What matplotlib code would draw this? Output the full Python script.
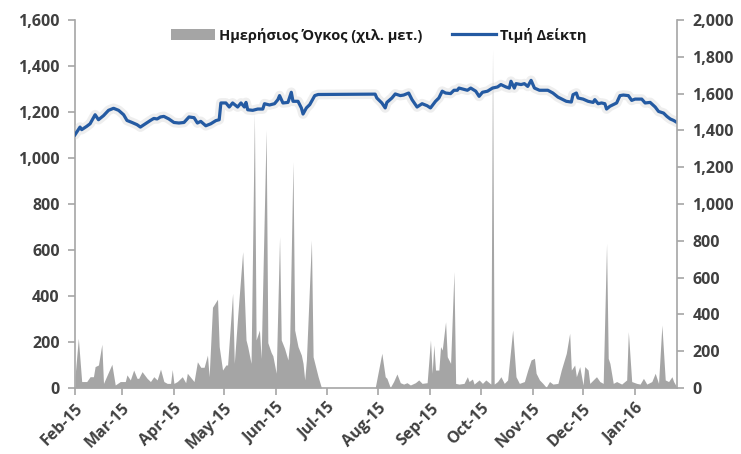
#!/usr/bin/env python3
"""
Ημερήσιος όγκος και τιμή δείκτη, Φεβ 2015 - Ιαν 2016
"""
import matplotlib
matplotlib.use("Agg")
import matplotlib.pyplot as plt
import matplotlib.dates as mdates
import matplotlib.ticker as mticker
import pandas as pd

# ---- δεδομένα (εκτίμηση από την εικόνα) ----
price_dates = [
    "2015-02-01", "2015-02-04", "2015-02-05", "2015-02-08", "2015-02-10", "2015-02-13",
    "2015-02-15", "2015-02-18", "2015-02-21", "2015-02-24", "2015-02-27", "2015-03-02",
    "2015-03-04", "2015-03-07", "2015-03-10", "2015-03-12", "2015-03-15", "2015-03-18",
    "2015-03-20", "2015-03-22", "2015-03-24", "2015-03-26", "2015-03-29", "2015-04-01",
    "2015-04-04", "2015-04-07", "2015-04-10", "2015-04-13", "2015-04-15", "2015-04-17",
    "2015-04-20", "2015-04-23", "2015-04-26", "2015-04-28", "2015-04-29", "2015-05-02",
    "2015-05-04", "2015-05-06", "2015-05-09", "2015-05-11", "2015-05-13", "2015-05-14",
    "2015-05-15", "2015-05-18", "2015-05-21", "2015-05-24", "2015-05-25", "2015-05-28",
    "2015-05-31", "2015-06-02", "2015-06-03", "2015-06-05", "2015-06-08", "2015-06-10",
    "2015-06-11", "2015-06-14", "2015-06-16", "2015-06-17", "2015-06-19", "2015-06-21",
    "2015-06-24", "2015-06-26", "2015-07-30", "2015-07-31", "2015-08-03", "2015-08-05",
    "2015-08-06", "2015-08-09", "2015-08-11", "2015-08-14", "2015-08-16", "2015-08-19",
    "2015-08-21", "2015-08-24", "2015-08-27", "2015-08-30", "2015-09-01", "2015-09-04",
    "2015-09-06", "2015-09-08", "2015-09-10", "2015-09-13", "2015-09-15", "2015-09-17",
    "2015-09-18", "2015-09-20", "2015-09-23", "2015-09-25", "2015-09-28", "2015-09-30",
    "2015-10-02", "2015-10-05", "2015-10-08", "2015-10-11", "2015-10-13", "2015-10-16",
    "2015-10-18", "2015-10-19", "2015-10-21", "2015-10-22", "2015-10-25", "2015-10-27",
    "2015-10-29", "2015-10-31", "2015-11-02", "2015-11-05", "2015-11-08", "2015-11-10",
    "2015-11-13", "2015-11-16", "2015-11-19", "2015-11-21", "2015-11-24", "2015-11-25",
    "2015-11-27", "2015-11-28", "2015-12-01", "2015-12-04", "2015-12-07", "2015-12-08",
    "2015-12-10", "2015-12-12", "2015-12-14", "2015-12-15", "2015-12-17", "2015-12-19",
    "2015-12-21", "2015-12-23", "2015-12-25", "2015-12-28", "2015-12-30", "2016-01-01",
    "2016-01-05", "2016-01-07", "2016-01-10", "2016-01-13", "2016-01-15", "2016-01-18",
    "2016-01-20", "2016-01-22", "2016-01-24", "2016-01-26",
]
price_values = [
    1376, 1418, 1404, 1422, 1436, 1485,
    1458, 1480, 1509, 1520, 1509, 1485,
    1454, 1443, 1431, 1418, 1436, 1454,
    1465, 1462, 1473, 1476, 1462, 1443,
    1440, 1443, 1473, 1469, 1440, 1449,
    1425, 1436, 1453, 1458, 1549, 1549,
    1527, 1549, 1527, 1549, 1527, 1552,
    1512, 1509, 1516, 1516, 1545, 1538,
    1545, 1567, 1589, 1549, 1552, 1607,
    1558, 1558, 1522, 1489, 1522, 1540,
    1589, 1595, 1597, 1576, 1549, 1522,
    1552, 1576, 1598, 1589, 1592, 1603,
    1567, 1527, 1545, 1534, 1522, 1558,
    1576, 1613, 1603, 1600, 1618, 1618,
    1630, 1625, 1618, 1630, 1613, 1585,
    1607, 1613, 1630, 1636, 1649, 1636,
    1630, 1667, 1630, 1654, 1649, 1654,
    1639, 1672, 1630, 1618, 1618, 1618,
    1603, 1581, 1567, 1558, 1554, 1594,
    1603, 1576, 1570, 1558, 1552, 1567,
    1545, 1549, 1545, 1516, 1531, 1540,
    1549, 1589, 1592, 1589, 1563, 1570,
    1570, 1549, 1552, 1527, 1503, 1494,
    1476, 1462, 1454, 1443,
]

volume_dates = [
    "2015-02-01", "2015-02-03", "2015-02-05", "2015-02-08", "2015-02-10", "2015-02-12",
    "2015-02-13", "2015-02-15", "2015-02-17", "2015-02-18", "2015-02-23", "2015-02-25",
    "2015-02-28", "2015-03-03", "2015-03-04", "2015-03-06", "2015-03-08", "2015-03-10",
    "2015-03-11", "2015-03-13", "2015-03-16", "2015-03-18", "2015-03-20", "2015-03-22",
    "2015-03-24", "2015-03-26", "2015-03-28", "2015-03-30", "2015-03-31", "2015-04-01",
    "2015-04-03", "2015-04-06", "2015-04-08", "2015-04-09", "2015-04-13", "2015-04-15",
    "2015-04-17", "2015-04-19", "2015-04-21", "2015-04-22", "2015-04-24", "2015-04-27",
    "2015-04-28", "2015-04-30", "2015-05-02", "2015-05-03", "2015-05-06", "2015-05-07",
    "2015-05-09", "2015-05-12", "2015-05-14", "2015-05-15", "2015-05-17", "2015-05-19",
    "2015-05-20", "2015-05-22", "2015-05-23", "2015-05-26", "2015-05-27", "2015-05-29",
    "2015-05-30", "2015-06-01", "2015-06-03", "2015-06-04", "2015-06-06", "2015-06-08",
    "2015-06-09", "2015-06-11", "2015-06-12", "2015-06-14", "2015-06-16", "2015-06-17",
    "2015-06-18", "2015-06-19", "2015-06-22", "2015-06-23", "2015-06-24", "2015-06-26",
    "2015-06-28", "2015-07-30", "2015-08-03", "2015-08-05", "2015-08-06", "2015-08-08",
    "2015-08-10", "2015-08-12", "2015-08-14", "2015-08-16", "2015-08-18", "2015-08-20",
    "2015-08-23", "2015-08-25", "2015-08-27", "2015-08-30", "2015-09-01", "2015-09-02",
    "2015-09-03", "2015-09-04", "2015-09-06", "2015-09-07", "2015-09-08", "2015-09-10",
    "2015-09-11", "2015-09-13", "2015-09-15", "2015-09-16", "2015-09-18", "2015-09-21",
    "2015-09-23", "2015-09-24", "2015-09-26", "2015-09-27", "2015-09-30", "2015-10-02",
    "2015-10-04", "2015-10-07", "2015-10-08", "2015-10-09", "2015-10-11", "2015-10-13",
    "2015-10-15", "2015-10-17", "2015-10-20", "2015-10-22", "2015-10-24", "2015-10-27",
    "2015-10-29", "2015-10-31", "2015-11-02", "2015-11-03", "2015-11-05", "2015-11-07",
    "2015-11-09", "2015-11-11", "2015-11-13", "2015-11-16", "2015-11-18", "2015-11-21",
    "2015-11-23", "2015-11-24", "2015-11-26", "2015-11-27", "2015-11-29", "2015-12-01",
    "2015-12-02", "2015-12-04", "2015-12-05", "2015-12-08", "2015-12-09", "2015-12-11",
    "2015-12-13", "2015-12-15", "2015-12-16", "2015-12-17", "2015-12-19", "2015-12-21",
    "2015-12-24", "2015-12-27", "2015-12-28", "2015-12-30", "2016-01-02", "2016-01-04",
    "2016-01-06", "2016-01-08", "2016-01-11", "2016-01-13", "2016-01-15", "2016-01-17",
    "2016-01-19", "2016-01-21", "2016-01-23", "2016-01-24", "2016-01-26",
]
volume_values = [
    49, 216, 28, 28, 49, 49,
    93, 100, 190, 20, 103, 13,
    28, 28, 57, 35, 78, 42,
    42, 71, 42, 28, 49, 35,
    82, 28, 20, 20, 80, 20,
    28, 49, 23, 64, 28, 114,
    90, 90, 143, 49, 351, 386,
    180, 78, 100, 100, 412, 107,
    310, 593, 209, 180, 107, 1194,
    209, 252, 128, 1122, 197, 154,
    140, 64, 658, 209, 172, 122,
    197, 984, 252, 180, 143, 107,
    35, 122, 643, 136, 107, 49,
    0, 0, 151, 49, 42, 2,
    28, 61, 23, 17, 23, 13,
    23, 35, 20, 23, 209, 64,
    187, 78, 78, 180, 165, 288,
    136, 107, 506, 20, 17, 20,
    49, 28, 39, 17, 35, 20,
    35, 17, 1473, 17, 28, 49,
    20, 35, 252, 49, 20, 28,
    78, 122, 129, 64, 35, 20,
    3, 28, 17, 20, 78, 151,
    238, 78, 100, 49, 93, 13,
    93, 78, 20, 42, 49, 28,
    20, 629, 129, 107, 20, 28,
    17, 35, 245, 28, 20, 17,
    42, 17, 28, 64, 20, 274,
    35, 28, 49, 28, 3,
]

vol_label = "Ημερήσιος Όγκος (χιλ. μετ.)"
price_label = "Τιμή Δείκτη"

GREY_AREA = "#A5A5A5"
BLUE = "#245AA2"
AXIS_GREY = "#A6A6A6"
TXT = "#404040"

plt.rcParams["font.family"] = ["Open Sans", "DejaVu Sans"]

vd = pd.to_datetime(volume_dates)
pd_ = pd.to_datetime(price_dates)

fig = plt.figure(figsize=(7.41, 4.54), dpi=100, facecolor="white")
ax = fig.add_axes([0.1012, 0.1454, 0.8124, 0.8106])
ax2 = ax.twinx()

# όγκος (αριστερός άξονας)
area = ax.fill_between(vd, 0, volume_values, color=GREY_AREA, linewidth=0,
                       zorder=2, label=vol_label)

# τιμή δείκτη (δεξιός άξονας) με ελαφριά σκιά
ax2.plot(pd_, price_values, color="#cfcfcf", lw=7, alpha=0.35,
         solid_capstyle="round", zorder=1)
line, = ax2.plot(pd_, price_values, color=BLUE, lw=2.3, zorder=2, label=price_label)

ax.set_xlim(pd.Timestamp("2015-02-01"), pd.Timestamp("2016-01-26"))
ax.set_ylim(0, 1600)
ax2.set_ylim(0, 2000)
ax.set_yticks(range(0, 1601, 200))
ax2.set_yticks(range(0, 2001, 200))
fmt = mticker.FuncFormatter(lambda v, p: f"{int(v):,}")
ax.yaxis.set_major_formatter(fmt)
ax2.yaxis.set_major_formatter(fmt)

ax.xaxis.set_major_locator(mdates.MonthLocator())
ax.xaxis.set_major_formatter(mdates.DateFormatter("%b-%y"))

for a in (ax, ax2):
    a.set_facecolor("none")
    a.spines["top"].set_visible(False)
    for s in ("left", "right", "bottom"):
        a.spines[s].set_color(AXIS_GREY)
        a.spines[s].set_linewidth(1.2)
    a.tick_params(axis="both", colors=AXIS_GREY, length=5, width=1.2,
                  labelcolor=TXT, labelsize=11.5)
ax.spines["right"].set_visible(False)
ax2.spines["left"].set_visible(False)
ax2.spines["bottom"].set_visible(False)

for lbl in ax.get_yticklabels() + ax2.get_yticklabels():
    lbl.set_fontweight("bold")
for lbl in ax.get_xticklabels():
    lbl.set_fontweight("bold")
    lbl.set_rotation(45)
    lbl.set_ha("right")
    lbl.set_rotation_mode("anchor")
ax.tick_params(axis="x", pad=4)
ax.tick_params(axis="y", pad=6)
ax2.tick_params(axis="y", pad=6)

leg = ax2.legend([area, line], [vol_label, price_label], loc="upper center",
                 bbox_to_anchor=(0.505, 1.015), ncol=2, frameon=False,
                 prop={"weight": "bold", "size": 10.5}, handlelength=3.0,
                 handleheight=0.8, columnspacing=2.0, handletextpad=0.3)
for t in leg.get_texts():
    t.set_color("#1a1a1a")

plt.savefig("out.png", dpi=100, facecolor="white")
plt.close()
